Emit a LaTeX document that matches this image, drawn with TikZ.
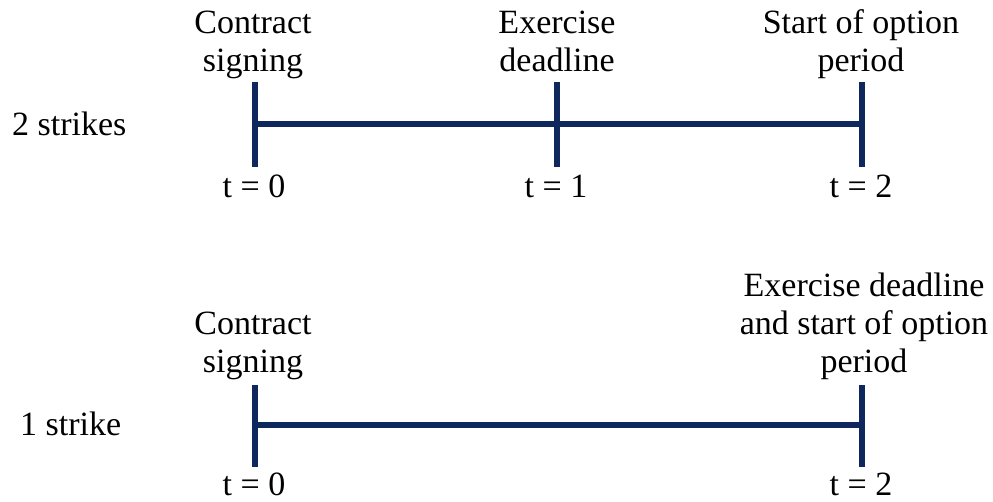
\documentclass[tikz,border=0pt]{standalone}
\usepackage{fontspec}
\setmainfont{Liberation Serif}
\definecolor{navy}{RGB}{14,40,94}
\tikzset{
  axis/.style={draw=navy, line width=6.5pt},
  lbl/.style={font=\fontsize{34}{38}\selectfont, inner sep=0pt, align=center, anchor=south},
  tlbl/.style={font=\fontsize{34}{38}\selectfont, inner sep=0pt, text depth=0pt, anchor=base},
  rowlbl/.style={font=\fontsize{34}{38}\selectfont, inner sep=0pt, anchor=base west},
}
\begin{document}
\begin{tikzpicture}[x=1pt, y=-1pt]
\useasboundingbox (0,0) rectangle (993,501);

% ---- two-strike timeline ----
\coordinate (a0) at (255,124);
\coordinate (a1) at (557,124);
\coordinate (a2) at (862,124);
\coordinate (a0t) at (255,82);  \coordinate (a0b) at (255,167);
\coordinate (a1t) at (557,82);  \coordinate (a1b) at (557,167);
\coordinate (a2t) at (862,82);  \coordinate (a2b) at (862,167);
\draw[axis] (a0) -- (a2);
\draw[axis] (a0t) -- (a0b);
\draw[axis] (a1t) -- (a1b);
\draw[axis] (a2t) -- (a2b);

\node[rowlbl] (r2) at (12,135) {2 strikes};
\node[lbl] (c0) at (253,83.4) {Contract\\signing\strut};
\node[lbl] (c1) at (557,83.4) {Exercise\\deadline\strut};
\node[lbl] (c2) at (861,83.4) {Start of option\\period\strut};
\node[tlbl] (t0) at (254,197) {t = 0};
\node[tlbl] (t1) at (556,197) {t = 1};
\node[tlbl] (t2) at (861,197) {t = 2};

% ---- one-strike timeline ----
\coordinate (b0) at (255,425);
\coordinate (b2) at (862,425);
\coordinate (b0t) at (255,385);  \coordinate (b0b) at (255,467);
\coordinate (b2t) at (862,385);  \coordinate (b2b) at (862,467);
\draw[axis] (b0) -- (b2);
\draw[axis] (b0t) -- (b0b);
\draw[axis] (b2t) -- (b2b);

\node[rowlbl] (r1) at (20,435) {1 strike};
\node[lbl] (d0) at (253,384.4) {Contract\\signing\strut};
\node[lbl] (d2) at (864,384.4) {Exercise deadline\\and start of option\\period\strut};
\node[tlbl] (s0) at (254,495) {t = 0};
\node[tlbl] (s2) at (861,495) {t = 2};
\end{tikzpicture}
\end{document}
